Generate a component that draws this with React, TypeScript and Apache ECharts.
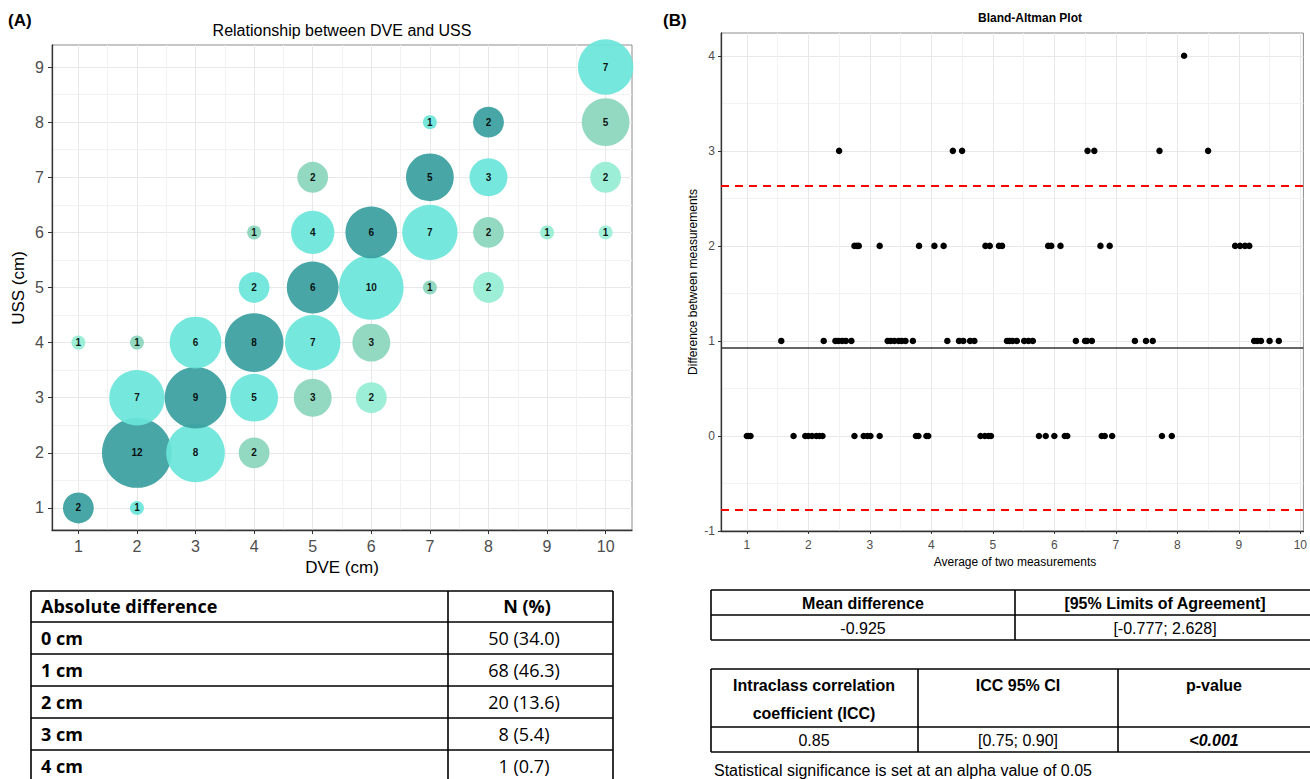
import React, { useEffect, useRef } from "react";
import * as echarts from "echarts";

// ---------- Panel A: bubble data ----------
const dve = [1, 2, 2, 3, 4, 2, 3, 4, 5, 6, 1, 2, 3, 4, 5, 6, 4, 5, 6, 7, 8, 4, 5, 6, 7, 8, 9, 10, 5, 7, 8, 10, 7, 8, 10, 10];
const uss = [1, 1, 2, 2, 2, 3, 3, 3, 3, 3, 4, 4, 4, 4, 4, 4, 5, 5, 5, 5, 5, 6, 6, 6, 6, 6, 6, 6, 7, 7, 7, 7, 8, 8, 8, 9];
const counts = [2, 1, 12, 8, 2, 7, 9, 5, 3, 2, 1, 1, 6, 8, 7, 3, 2, 6, 10, 1, 2, 1, 4, 6, 7, 2, 1, 1, 2, 5, 3, 2, 1, 2, 5, 7];
const diffColors = ["#3A9E9E", "#6AE5D9", "#8AD6BC", "#95EDD2", "#9DEFD8"];
const ticksA = [1, 2, 3, 4, 5, 6, 7, 8, 9, 10];
const halfTicksAX = [1.5, 2.5, 3.5, 4.5, 5.5, 6.5, 7.5, 8.5, 9.5];
const ticksAY = [1, 2, 3, 4, 5, 6, 7, 8, 9];
const halfTicksAY = [1.5, 2.5, 3.5, 4.5, 5.5, 6.5, 7.5, 8.5];

// ---------- Panel B: Bland-Altman data (x = average, grouped by difference) ----------
const baDiffLevels = [0, 1, 2, 3, 4];
const baAvgDiff0 = [1.0, 1.03, 1.06, 1.76, 1.95, 2.0, 2.06, 2.13, 2.18, 2.23, 2.75, 2.9, 2.96, 3.01, 3.16, 3.75, 3.79, 3.92, 3.95, 4.8, 4.87, 4.93, 4.97, 5.75, 5.86, 6.0, 6.17, 6.21, 6.77, 6.82, 6.94, 7.75, 7.91];
const baAvgDiff1 = [1.56, 2.25, 2.44, 2.49, 2.55, 2.61, 2.7, 3.29, 3.34, 3.4, 3.47, 3.52, 3.58, 3.7, 4.26, 4.45, 4.52, 4.63, 4.7, 5.23, 5.27, 5.32, 5.39, 5.51, 5.58, 5.65, 6.35, 6.5, 6.53, 6.61, 7.31, 7.49, 7.6, 9.25, 9.3, 9.36, 9.5, 9.65];
const baAvgDiff2 = [2.75, 2.79, 2.82, 3.16, 3.8, 4.05, 4.2, 4.88, 4.95, 5.1, 5.15, 5.9, 5.95, 6.1, 6.75, 6.9, 8.94, 9.02, 9.1, 9.17];
const baAvgDiff3 = [2.5, 4.35, 4.5, 6.54, 6.65, 7.71, 8.5];
const baAvgDiff4 = [8.11];
const meanDiff = 0.925;
const loaLower = -0.777;
const loaUpper = 2.628;
const ticksBX = [1, 2, 3, 4, 5, 6, 7, 8, 9, 10];
const halfTicksBX = [1.5, 2.5, 3.5, 4.5, 5.5, 6.5, 7.5, 8.5, 9.5];
const ticksBY = [-1, 0, 1, 2, 3, 4];
const halfTicksBY = [-0.5, 0.5, 1.5, 2.5, 3.5];

// ---------- Tables ----------
const tableAHeader = ["Absolute difference", "N (%)"];
const tableALabels = ["0 cm", "1 cm", "2 cm", "3 cm", "4 cm"];
const tableAValues = ["50 (34.0)", "68 (46.3)", "20 (13.6)", "8 (5.4)", "1 (0.7)"];
const agreeHeader = ["Mean difference", "[95% Limits of Agreement]"];
const agreeValues = ["-0.925", "[-0.777; 2.628]"];
const iccHeader = [["Intraclass correlation", "coefficient (ICC)"], ["ICC 95% CI"], ["p-value"]];
const iccValues = ["0.85", "[0.75; 0.90]", "<0.001"];
const footnote = "Statistical significance is set at an alpha value of 0.05";

const SANS = "'Liberation Sans', Arial, sans-serif";
const NARROW = "'Liberation Sans', Arial, sans-serif";
const CAL = "'Open Sans', Lato, sans-serif";

function txt(text: string, x: number, y: number, font: string, align = "center", extra: any = {}) {
  return {
    type: "text",
    x,
    y,
    silent: true,
    ...extra,
    style: { text, font, fill: "#000", textAlign: align, textVerticalAlign: "middle", ...(extra.style || {}) },
  };
}
function ln(x1: number, y1: number, x2: number, y2: number, w = 1.6) {
  return { type: "line", silent: true, shape: { x1, y1, x2, y2 }, style: { stroke: "#000", lineWidth: w } };
}

export default function App() {
  const ref = useRef<HTMLDivElement>(null);
  useEffect(() => {
    if (!ref.current) return;
    const chart = echarts.init(ref.current, undefined, { renderer: "svg" });

    const minN = Math.min(...counts);
    const maxN = Math.max(...counts);
    const bubbleData = dve.map((x, i) => ({
      value: [x, uss[i], counts[i]],
      itemStyle: { color: diffColors[Math.abs(x - uss[i])], opacity: 0.92 },
    }));

    const baSeries = [baAvgDiff0, baAvgDiff1, baAvgDiff2, baAvgDiff3, baAvgDiff4].map((arr, k) => ({
      type: "scatter",
      xAxisIndex: 2,
      yAxisIndex: 2,
      symbolSize: 6.5,
      itemStyle: { color: "#000", opacity: 1 },
      data: arr.map((x) => [x, baDiffLevels[k]]),
      z: 5,
      ...(k === 0
        ? {
            markLine: {
              silent: true,
              symbol: "none",
              label: { show: false },
              animation: false,
              data: [
                { yAxis: loaUpper, lineStyle: { color: "#ff0000", type: [8, 6], width: 2 } },
                { yAxis: loaLower, lineStyle: { color: "#ff0000", type: [8, 6], width: 2 } },
                { yAxis: meanDiff, lineStyle: { color: "#333", type: "solid", width: 1.6 } },
              ],
            },
          }
        : {}),
    }));

    const gridLineMajor = { show: true, lineStyle: { color: "#e8e8e8", width: 1 } };
    const gridLineMinor = { show: true, lineStyle: { color: "#f2f2f2", width: 1 } };

    const g: any[] = [];
    g.push(txt("(A)", 8, 20, `bold 17px ${SANS}`, "left"));
    g.push(txt("(B)", 663, 20, `bold 17px ${SANS}`, "left"));
    g.push(txt("Relationship between DVE and USS", 342, 30, `16px ${SANS}`));
    g.push(txt("Bland-Altman Plot", 1030, 18, `bold 12px ${SANS}`));
    g.push(txt("DVE (cm)", 342, 567, `17px ${SANS}`));
    g.push(txt("USS (cm)", 18, 288, `17px ${SANS}`, "center", { rotation: Math.PI / 2 }));
    g.push(txt("Average of two measurements", 1015, 562, `12px ${SANS}`));
    g.push(txt("Difference between measurements", 693, 282, `12px ${SANS}`, "center", { rotation: Math.PI / 2 }));

    // Table A
    const ax0 = 31, ax1 = 613, axd = 448;
    const arows = [591, 622, 654, 686, 718, 750, 782];
    arows.forEach((y) => g.push(ln(ax0, y, ax1, y)));
    g.push(ln(ax0, arows[0], ax0, 782));
    g.push(ln(ax1, arows[0], ax1, 782));
    g.push(ln(axd, arows[0], axd, 782));
    g.push(txt(tableAHeader[0], 41, 606, `bold 18px ${CAL}`, "left"));
    g.push(txt(tableAHeader[1], 527, 606, `bold 18px ${CAL}`));
    tableALabels.forEach((l, i) => {
      const yc = (arows[i + 1] + arows[i + 2]) / 2;
      g.push(txt(l, 41, yc, `bold 18px ${CAL}`, "left"));
      g.push(txt(tableAValues[i], 524, yc, `18px ${CAL}`));
    });

    // Table B1
    const bx0 = 711, bx1 = 1312, bxd = 1015;
    [590, 615, 640].forEach((y) => g.push(ln(bx0, y, bx1, y)));
    g.push(ln(bx0, 590, bx0, 640));
    g.push(ln(bxd, 590, bxd, 640));
    g.push(txt(agreeHeader[0], 863, 603, `bold 16px ${NARROW}`));
    g.push(txt(agreeHeader[1], 1165, 603, `bold 16px ${NARROW}`));
    g.push(txt(agreeValues[0], 863, 628, `16px ${NARROW}`));
    g.push(txt(agreeValues[1], 1165, 628, `16px ${NARROW}`));

    // Table B2
    const cols = [711, 918, 1118, 1312];
    [669, 727, 752].forEach((y) => g.push(ln(cols[0], y, cols[3], y)));
    [711, 918, 1118].forEach((x) => g.push(ln(x, 669, x, 752)));
    const centers = [814, 1018, 1214];
    iccHeader.forEach((lines, i) => {
      lines.forEach((l, j) => g.push(txt(l, centers[i], 685 + j * 28, `bold 16px ${NARROW}`)));
    });
    iccValues.forEach((v, i) =>
      g.push(txt(v, centers[i], 740, i === 2 ? `italic bold 16px ${NARROW}` : `16px ${NARROW}`))
    );
    g.push(txt(footnote, 714, 770, `16px ${NARROW}`, "left"));

    const option: any = {
      animation: false,
      backgroundColor: "#fff",
      grid: [
        { left: 52, top: 45, width: 580, height: 485, show: true, borderColor: "#8c8c8c", borderWidth: 1, containLabel: false },
        { left: 721, top: 33, width: 587, height: 498, show: true, borderColor: "#8c8c8c", borderWidth: 1, containLabel: false },
      ],
      xAxis: [
        {
          gridIndex: 0, type: "value", min: 0.55, max: 10.45,
          axisLine: { show: true, onZero: false, lineStyle: { color: "#333", width: 1.3 } },
          axisTick: { show: true, length: 4, lineStyle: { color: "#333" }, customValues: ticksA },
          axisLabel: { color: "#4d4d4d", fontSize: 16, fontFamily: SANS, margin: 8, customValues: ticksA },
          splitLine: gridLineMajor,
        },
        {
          gridIndex: 0, type: "value", min: 0.55, max: 10.45, position: "bottom",
          axisLine: { show: false }, axisTick: { show: false, customValues: halfTicksAX },
          axisLabel: { show: false }, splitLine: gridLineMinor,
        },
        {
          gridIndex: 1, type: "value", min: 0.58, max: 10.05,
          axisLine: { show: true, onZero: false, lineStyle: { color: "#333", width: 1.3 } },
          axisTick: { show: true, length: 3, lineStyle: { color: "#333" }, customValues: ticksBX },
          axisLabel: { color: "#4d4d4d", fontSize: 12, fontFamily: SANS, margin: 8, customValues: ticksBX },
          splitLine: gridLineMajor,
        },
        {
          gridIndex: 1, type: "value", min: 0.58, max: 10.05, position: "bottom",
          axisLine: { show: false }, axisTick: { show: false, customValues: halfTicksBX },
          axisLabel: { show: false }, splitLine: gridLineMinor,
        },
      ],
      yAxis: [
        {
          gridIndex: 0, type: "value", min: 0.6, max: 9.4,
          axisLine: { show: true, onZero: false, lineStyle: { color: "#333", width: 1.3 } },
          axisTick: { show: true, length: 4, lineStyle: { color: "#333" }, customValues: ticksAY },
          axisLabel: { color: "#4d4d4d", fontSize: 16, fontFamily: SANS, margin: 8, customValues: ticksAY },
          splitLine: gridLineMajor,
        },
        {
          gridIndex: 0, type: "value", min: 0.6, max: 9.4, position: "left",
          axisLine: { show: false }, axisTick: { show: false, customValues: halfTicksAY },
          axisLabel: { show: false }, splitLine: gridLineMinor,
        },
        {
          gridIndex: 1, type: "value", min: -1, max: 4.24,
          axisLine: { show: true, onZero: false, lineStyle: { color: "#333", width: 1.3 } },
          axisTick: { show: true, length: 3, lineStyle: { color: "#333" }, customValues: ticksBY },
          axisLabel: { color: "#4d4d4d", fontSize: 12, fontFamily: SANS, margin: 6, customValues: ticksBY },
          splitLine: gridLineMajor,
        },
        {
          gridIndex: 1, type: "value", min: -1, max: 4.24, position: "left",
          axisLine: { show: false }, axisTick: { show: false, customValues: halfTicksBY },
          axisLabel: { show: false }, splitLine: gridLineMinor,
        },
      ],
      series: [
        {
          type: "scatter",
          xAxisIndex: 0,
          yAxisIndex: 0,
          data: bubbleData,
          symbolSize: (v: number[]) => 14 + 56 * Math.sqrt((v[2] - minN) / (maxN - minN)),
          label: {
            show: true,
            position: "inside",
            formatter: (p: any) => String(p.value[2]),
            fontSize: 10,
            fontWeight: "bold",
            color: "#000",
            fontFamily: SANS,
          },
          z: 5,
        },
        ...baSeries,
      ],
      graphic: g,
    };
    chart.setOption(option);
    return () => chart.dispose();
  }, []);
  return <div ref={ref} style={{ position: "absolute", left: 0, top: 0, width: 1310, height: 779 }} />;
}
